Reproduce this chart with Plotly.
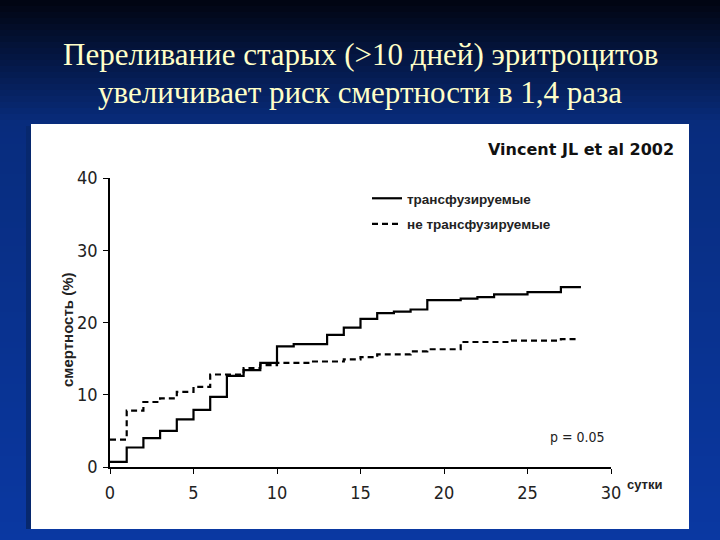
import plotly.graph_objects as go

# ---- data ----
days_transfused = [0, 1, 2, 3, 4, 5, 6, 7, 8, 9, 10, 11, 13, 14, 15, 16, 17, 18, 19, 21, 22, 23, 25, 27, 28.2]
mort_transfused = [0.7, 2.7, 4.0, 5.0, 6.6, 7.9, 9.7, 12.6, 13.4, 14.4, 16.7, 17.0, 18.3, 19.3, 20.5, 21.3,
                   21.5, 21.8, 23.1, 23.3, 23.5, 23.9, 24.2, 24.9, 24.9]

days_nontransfused = [0, 1, 2, 3, 4, 5, 6, 8, 9, 10, 12, 14, 15, 16, 18, 19, 21, 24, 27, 27.9]
mort_nontransfused = [3.8, 7.8, 9.0, 9.5, 10.4, 11.1, 12.8, 13.7, 14.1, 14.4, 14.6, 14.9, 15.2, 15.6,
                      16.0, 16.3, 17.3, 17.5, 17.7, 17.7]

x_ticks = [0, 5, 10, 15, 20, 25, 30]
y_ticks = [0, 10, 20, 30, 40]
series_names = ["трансфузируемые", "не трансфузируемые"]
title_lines = ["Переливание старых (>10 дней) эритроцитов",
               "увеличивает риск смертности в 1,4 раза"]

# ---- geometry helpers (pixel -> paper) ----
W, H = 720, 540
L, R, T, B = 110, 611, 178, 467


def px(x):
    return (x - L) / (R - L)


def py(y):
    return (B - y) / (B - T)


def lerp(c1, c2, t):
    return tuple(int(round(a + (b - a) * t)) for a, b in zip(c1, c2))


fig = go.Figure()

fig.add_trace(go.Scatter(
    x=days_transfused, y=mort_transfused, mode="lines", line_shape="hv",
    line=dict(color="black", width=2.2), name=series_names[0],
    legendgroup="a", cliponaxis=False))
fig.add_trace(go.Scatter(
    x=days_nontransfused, y=mort_nontransfused, mode="lines", line_shape="hv",
    line=dict(color="black", width=2.2, dash="6px,4px"), name=series_names[1],
    legendgroup="b", cliponaxis=False))

# ---- background gradient bands ----
shapes = []
top_c = (1, 4, 16)
mid_c = (8, 44, 125)
bot_c = (10, 56, 162)
step = 6
for y0 in range(0, H, step):
    yc = y0 + step / 2
    if yc < 124:
        c = lerp(top_c, mid_c, yc / 124)
    else:
        c = lerp(mid_c, bot_c, (yc - 124) / (H - 124))
    shapes.append(dict(type="rect", xref="paper", yref="paper", layer="below",
                       x0=px(0), x1=px(W), y0=py(y0 + step + 0.5), y1=py(y0),
                       line=dict(width=0), fillcolor="rgb(%d,%d,%d)" % c))
# shadow stripe and white panel
shapes.append(dict(type="rect", xref="paper", yref="paper", layer="below",
                   x0=px(26), x1=px(31), y0=py(529), y1=py(126),
                   line=dict(width=0), fillcolor="rgb(7,40,110)"))
shapes.append(dict(type="rect", xref="paper", yref="paper", layer="below",
                   x0=px(31), x1=px(689), y0=py(529), y1=py(124),
                   line=dict(width=0), fillcolor="white"))

serif = "Liberation Serif, Times New Roman, serif"
sans = "Liberation Sans, Arial, sans-serif"
narrow = "Liberation Sans Narrow, DejaVu Sans Condensed, Arial Narrow, sans-serif"

annotations = [
    dict(text=title_lines[0], x=px(360), y=py(55), xref="paper", yref="paper",
         showarrow=False, xanchor="center", yanchor="middle",
         font=dict(family=serif, size=31, color="#FFFFC8")),
    dict(text=title_lines[1], x=px(360), y=py(93), xref="paper", yref="paper",
         showarrow=False, xanchor="center", yanchor="middle",
         font=dict(family=serif, size=31, color="#FFFFC8")),
    dict(text="<b>Vincent JL et al 2002</b>", x=px(676), y=py(149), xref="paper", yref="paper",
         showarrow=False, xanchor="right", yanchor="middle",
         font=dict(family="DejaVu Sans, Verdana, sans-serif", size=16, color="#111")),
    dict(text="<b>смертность (%)</b>", x=px(67), y=py(330), xref="paper", yref="paper",
         showarrow=False, xanchor="center", yanchor="middle", textangle=-90,
         font=dict(family=sans, size=15, color="#222")),
    dict(text="<b>сутки</b>", x=px(625), y=py(484), xref="paper", yref="paper",
         showarrow=False, xanchor="left", yanchor="middle",
         font=dict(family=sans, size=13, color="#222")),
    dict(text="p = 0.05", x=px(577), y=py(437), xref="paper", yref="paper",
         showarrow=False, xanchor="center", yanchor="middle",
         font=dict(family=narrow, size=14, color="#222")),
]

tickfont = dict(family=narrow, size=18, color="#222")

fig.update_layout(
    width=W, height=H,
    margin=dict(l=L, r=W - R, t=T, b=H - B, pad=0),
    paper_bgcolor="rgb(8,44,125)",
    plot_bgcolor="rgba(0,0,0,0)",
    shapes=shapes,
    annotations=annotations,
    showlegend=True,
    legend=dict(x=px(367), y=py(183), xanchor="left", yanchor="top",
                bgcolor="rgba(0,0,0,0)", tracegroupgap=5,
                font=dict(family=sans, size=13.5, color="#222", weight="bold"),
                itemwidth=30),
    xaxis=dict(range=[0, 30], tickvals=x_ticks, showline=True, linecolor="black", linewidth=1.5,
               ticks="outside", ticklen=5, tickcolor="black", showgrid=False, zeroline=False,
               tickfont=tickfont, ticklabelstandoff=4),
    yaxis=dict(range=[0, 40], tickvals=y_ticks, showline=True, linecolor="black", linewidth=1.5,
               ticks="outside", ticklen=5, tickcolor="black", showgrid=False, zeroline=False,
               tickfont=tickfont, ticklabelstandoff=2),
)

fig.write_html("out.html",
               config={"displayModeBar": False},
               post_script="document.body.style.margin='0';document.body.style.padding='0';"
                           "document.documentElement.style.overflow='hidden';")
